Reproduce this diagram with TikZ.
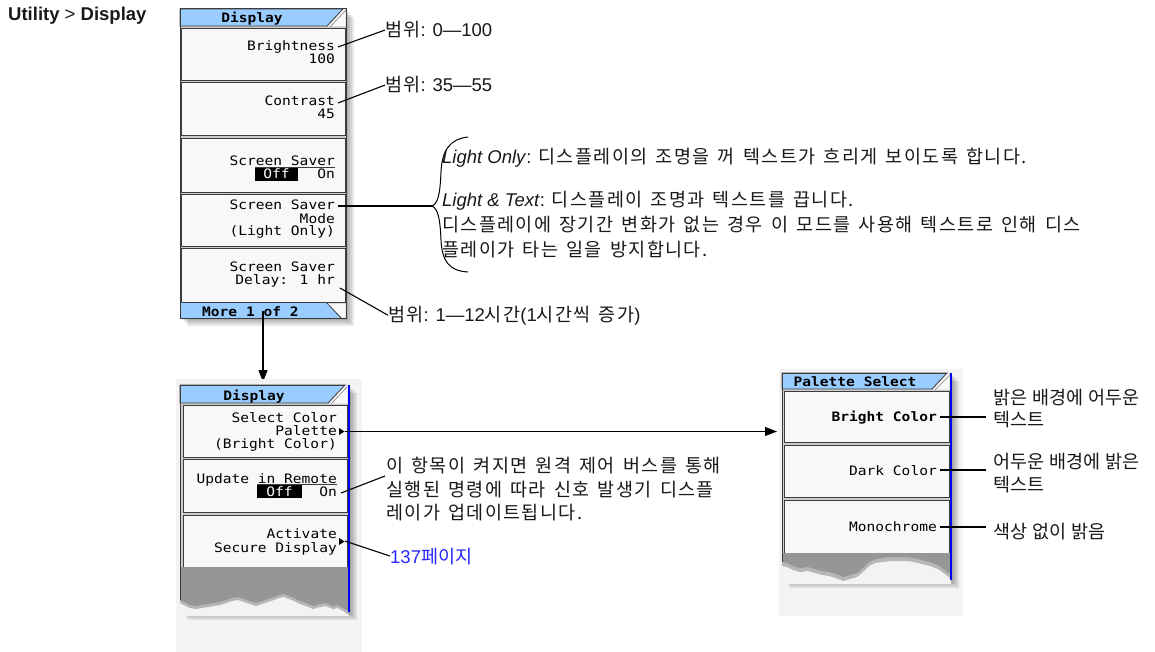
\documentclass[tikz,border=0pt]{standalone}
\usepackage{fontspec}
\setmainfont{Liberation Sans}
\newfontfamily\kr[WordSpace=1.5,LetterSpace=7.5]{Noto Sans CJK KR}
\newfontfamily\krn[WordSpace=1.2]{Noto Sans CJK KR}
\newfontfamily\pix[FakeStretch=1.12]{DejaVu Sans Mono}
\usetikzlibrary{arrows.meta}
\definecolor{tabblue}{RGB}{153,204,255}
\definecolor{btnfill}{RGB}{248,248,248}
\definecolor{btnedge}{RGB}{60,60,60}
\definecolor{panelbg}{RGB}{205,205,205}
\definecolor{tornbg}{RGB}{150,150,150}
\definecolor{pagebg}{RGB}{243,243,243}
\definecolor{linkblue}{RGB}{40,40,255}
\definecolor{annot}{RGB}{25,25,25}
\newcommand\kor[1]{{\kr\fontsize{18.5}{18.5}\selectfont #1}}
\newcommand\korn[1]{{\krn\fontsize{18.5}{18.5}\selectfont #1}}
\tikzset{
  btn/.style={fill=btnfill, draw=btnedge, line width=0.9pt},
  btxt/.style={font=\pix\fontsize{13}{13}\selectfont, inner sep=0pt, anchor=base east},
  btitle/.style={font=\pix\bfseries\fontsize{13}{13}\selectfont, inner sep=0pt, anchor=base},
  ann/.style={font=\fontsize{18.5}{20}\selectfont, text=annot, inner sep=0pt, anchor=base west},
  conn/.style={line width=1.1pt, black},
  tab/.style={fill=tabblue, draw=btnedge, line width=0.8pt},
  offbox/.style={fill=black},
  shade/.style={fill=black, opacity=0.09},
  tip/.style={-{Triangle[length=12pt,width=9pt]}},
}
\begin{document}
\begin{tikzpicture}[x=1pt,y=-1pt]
\useasboundingbox (0,0) rectangle (1155,652);
\fill[white] (0,0) rectangle (1155,652);

% breadcrumb
\node[ann, font=\bfseries\fontsize{18.5}{20}\selectfont] (crumb) at (8,21) {Utility \textmd{>} Display};

% ================= TOP PANEL =================
\foreach \d in {2,4,6,8} {\fill[shade] (180+\d,9+\d) rectangle (346+\d,318+\d);}
\fill[panelbg] (180,9) rectangle (346,318);
\draw[tab] (180,26) -- (180,9) -- (343,9) -- (327,26) -- cycle;
\fill[btnfill] (343.5,9.5) -- (345.5,9.5) -- (345.5,26.5) -- (328,26.5) -- cycle;
\draw[gray, line width=0.6pt] (330,27) -- (346,10);
\node[btitle] (t1) at (252,23) {Display};
\draw[btn] (181,28) rectangle (345,80);
\draw[btn] (181,82) rectangle (345,135);
\draw[btn] (181,138) rectangle (345,192);
\draw[btn] (181,194) rectangle (345,246);
\draw[btn] (181,248) rectangle (345,302);
\fill[tabblue] (180,303) -- (327,303) -- (341,318) -- (180,318) -- cycle;
\draw[btnedge, line width=0.8pt] (327,303) -- (341,318);
\fill[btnfill] (328,303.5) -- (345.5,303.5) -- (345.5,317.5) -- (342,317.5) -- cycle;
\draw[btnedge, line width=1pt] (180,9) rectangle (346,318);
\node[btitle, anchor=base west] (more) at (202,316) {More 1 of 2};

\node[btxt] (bri) at (335,51) {Brightness};
\node[btxt] (briv) at (335,64) {100};
\node[btxt] (con) at (335,106) {Contrast};
\node[btxt] (conv) at (335,119) {45};
\node[btxt] (ss1) at (335,166) {Screen Saver};
\draw[btnedge, line width=0.7pt] (255,167.5) -- (335,167.5);
\fill[offbox] (255,168) rectangle (298,181);
\node[btxt, text=white, anchor=base] (off1) at (276.5,179) {Off};
\node[btxt] (on1) at (335,179) {On};
\node[btxt] (ssm) at (335,210) {Screen Saver};
\node[btxt] (ssm2) at (335,223) {Mode};
\node[btxt] (ssm3) at (335,236) {(Light Only)};
\node[btxt] (ssd) at (335,271) {Screen Saver};
\node[btxt] (ssd2) at (335,284) {Delay: 1 hr};

% top annotations
\node[ann] (l1) at (385,37) {\kor{범위}: 0—100};
\node[ann] (l2) at (385,92) {\kor{범위}: 35—55};
\node[ann] (l3) at (388,321) {\kor{범위}: 1—12\kor{시간}(1\kor{시간씩 증가})};
\coordinate (c1) at (338,47);
\coordinate (c2) at (338,103);
\coordinate (c3) at (340,288);
\draw[conn] (c1) -- (l1.west);
\draw[conn] (c2) -- (l2.west);
\draw[conn] (c3) -- (l3.west);

% brace
\coordinate (bt) at (432,206);
\coordinate (cm) at (338,206);
\draw[conn] (cm) -- (bt);
\draw[line width=1pt] (468,137) .. controls (450,139) and (442,150) .. (441,172)
  .. controls (440,195) and (438,203) .. (bt)
  .. controls (438,209) and (440,218) .. (441,240)
  .. controls (442,262) and (450,271) .. (468,272);
\node[ann] (lo) at (442,164) {\textit{Light Only}: \kor{디스플레이의 조명을 꺼 텍스트가 흐리게 보이도록 합니다.}};
\node[ann] (lt) at (442,207) {\textit{Light \& Text}: \kor{디스플레이 조명과 텍스트를 끕니다.}};
\node[ann] (lt2) at (442,232) {\kor{디스플레이에 장기간 변화가 없는 경우 이 모드를 사용해 텍스트로 인해 디스}};
\node[ann] (lt3) at (442,256) {\kor{플레이가 타는 일을 방지합니다.}};

% arrow down
\coordinate (a1) at (263,311);
\coordinate (a2) at (263,382);
\draw[conn, tip] (a1) -- (a2);

% ================= BOTTOM-LEFT PANEL =================
\fill[pagebg] (176,379) rectangle (362,652);
\foreach \d in {2,4,6,8} {\fill[shade] (180+\d,385+\d) rectangle (349+\d,612+\d);}
\fill[panelbg] (180,385) rectangle (348,567);
\draw[tab] (180,403) -- (180,385) -- (345,385) -- (328,403) -- cycle;
\fill[btnfill] (345.5,385.5) -- (347.5,385.5) -- (347.5,403.5) -- (329,403.5) -- cycle;
\draw[gray, line width=0.6pt] (331,404) -- (347,387);
\node[btitle] (t2) at (254,400) {Display};
\draw[btn] (183,405) rectangle (347,457);
\draw[btn] (183,459) rectangle (347,512);
\draw[btn] (183,515) rectangle (347,567);
% torn part
\fill[pagebg] (180,567) rectangle (349,616);
\path[fill=black, opacity=0.25] (180,570) -- (349,570) -- (349,615) -- (343,611) -- (338,608) -- (333,609) -- (326,606) -- (320,607) -- (313,609) -- (306,606) -- (300,604) -- (294,601) -- (289,599) -- (284,597) -- (279,598) -- (274,600) -- (268,602) -- (262,604) -- (256,606) -- (250,604) -- (244,602) -- (238,600) -- (232,601) -- (226,603) -- (220,605) -- (214,606) -- (208,607) -- (202,608) -- (196,609) -- (190,608) -- (184,605) -- (180,603) -- cycle;
\path[fill=tornbg] (180,567) -- (349,567) -- (349,611) -- (343,608) -- (338,605) -- (333,606) -- (326,603) -- (320,604) -- (313,606) -- (306,603) -- (300,601) -- (294,598) -- (289,596) -- (284,594) -- (279,595) -- (274,597) -- (268,599) -- (262,601) -- (256,603) -- (250,601) -- (244,599) -- (238,597) -- (232,598) -- (226,600) -- (220,602) -- (214,603) -- (208,604) -- (202,605) -- (196,606) -- (190,605) -- (184,602) -- (180,600) -- cycle;
\draw[btnedge, line width=1pt] (180,600) -- (180,385) -- (345,385);
\draw[blue, line width=2pt] (348.5,385) -- (348.5,612);

\node[btxt] (sc1) at (337,422) {Select Color};
\node[btxt] (sc2) at (337,435) {Palette};
\node[btxt] (sc3) at (337,448) {(Bright Color)};
\fill (339,428) -- (344.5,431.5) -- (339,435) -- cycle;
\node[btxt] (ur1) at (337,483) {Update in Remote};
\draw[btnedge, line width=0.7pt] (257,484.5) -- (337,484.5);
\fill[offbox] (257,485) rectangle (302,498);
\node[btxt, text=white, anchor=base] (off2) at (279.5,496) {Off};
\node[btxt] (on2) at (337,496) {On};
\node[btxt] (ac1) at (337,538) {Activate};
\node[btxt] (ac2) at (337,552) {Secure Display};
\fill (339,538) -- (344.5,541.5) -- (339,545) -- cycle;

% bottom-left annotations
\node[ann] (m1) at (386,472) {\kor{이 항목이 켜지면 원격 제어 버스를 통해}};
\node[ann] (m2) at (386,496) {\kor{실행된 명령에 따라 신호 발생기 디스플}};
\node[ann] (m3) at (386,519) {\kor{레이가 업데이트됩니다.}};
\node[ann, text=linkblue] (pg) at (390,563) {137\korn{페이지}};
\coordinate (cu) at (341,493);
\coordinate (cu2) at (385,476);
\draw[conn] (cu) -- (cu2);
\coordinate (ca) at (345,541);
\draw[conn] (ca) -- (pg.west);

% ================= RIGHT PANEL =================
\fill[pagebg] (779,369) rectangle (963,616);
\foreach \d in {2,4,6,8} {\fill[shade] (782+\d,373+\d) rectangle (951+\d,580+\d);}
\fill[panelbg] (782,373) rectangle (950,553);
\draw[tab] (782,389) -- (782,373) -- (947,373) -- (932,389) -- cycle;
\fill[btnfill] (947.5,373.5) -- (949.5,373.5) -- (949.5,389.5) -- (933,389.5) -- cycle;
\draw[gray, line width=0.6pt] (935,390) -- (950,375);
\node[btitle] (t3) at (855,386) {Palette Select};
\draw[btn] (784,391) rectangle (949,442);
\draw[btn] (784,445) rectangle (949,497);
\draw[btn] (784,500) rectangle (949,553);
\fill[pagebg] (782,553) rectangle (951,584);
\path[fill=black, opacity=0.25] (782,556) -- (951,556) -- (951,579) -- (945,574) -- (938,569) -- (930,566) -- (922,564) -- (914,562) -- (906,561) -- (898,561) -- (890,561) -- (882,562) -- (875,563) -- (869,566) -- (863,572) -- (857,577) -- (850,579) -- (843,581) -- (836,578) -- (829,576) -- (822,575) -- (815,573) -- (808,571) -- (800,572) -- (793,570) -- (787,567) -- (782,566) -- cycle;
\path[fill=tornbg] (782,553) -- (951,553) -- (951,575) -- (945,570) -- (938,565) -- (930,562) -- (922,560) -- (914,558) -- (906,557) -- (898,557) -- (890,557) -- (882,558) -- (875,559) -- (869,562) -- (863,568) -- (857,573) -- (850,575) -- (843,577) -- (836,574) -- (829,572) -- (822,571) -- (815,569) -- (808,567) -- (800,568) -- (793,566) -- (787,563) -- (782,562) -- cycle;
\draw[btnedge, line width=1pt] (782,562) -- (782,373) -- (947,373);
\draw[blue, line width=2pt] (950.5,373) -- (950.5,580);

\node[btxt, font=\pix\bfseries\fontsize{13}{13}\selectfont] (bc) at (937,421) {Bright Color};
\node[btxt] (dc) at (937,475) {Dark Color};
\node[btxt] (mc) at (937,531) {Monochrome};

% palette arrow
\coordinate (pa) at (345,431.5);
\coordinate (pb) at (777,431.5);
\draw[conn, tip] (pa) -- (pb);

% right annotations
\node[ann] (r1) at (993,404) {\korn{밝은 배경에 어두운}};
\node[ann] (r2) at (993,426) {\korn{텍스트}};
\node[ann] (r3) at (993,468) {\korn{어두운 배경에 밝은}};
\node[ann] (r4) at (993,491) {\korn{텍스트}};
\node[ann] (r5) at (993,538) {\korn{색상 없이 밝음}};
\coordinate (rb) at (940,417);
\coordinate (rb2) at (986,417);
\coordinate (rd) at (940,470);
\coordinate (rd2) at (986,470);
\coordinate (rm) at (940,527);
\coordinate (rm2) at (986,527);
\draw[conn] (rb) -- (rb2);
\draw[conn] (rd) -- (rd2);
\draw[conn] (rm) -- (rm2);
\end{tikzpicture}
\end{document}
